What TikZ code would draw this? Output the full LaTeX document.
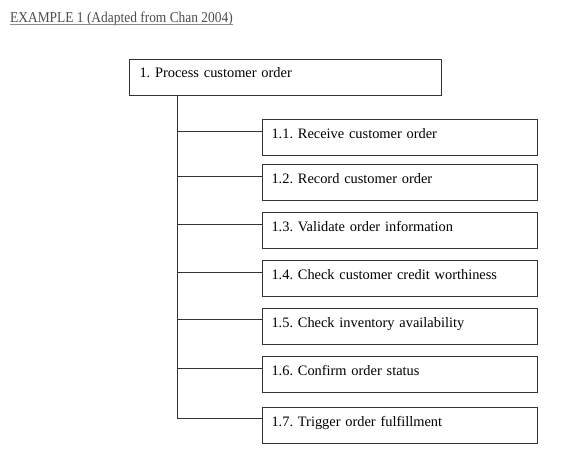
\documentclass[tikz,border=0pt]{standalone}
\usepackage{fontspec}
\setmainfont{Liberation Serif}
\begin{document}
\frenchspacing
\begin{tikzpicture}[x=1pt,y=-1pt,
  box/.style={draw=black!80, line width=1pt, fill=white, anchor=north west,
    inner xsep=9pt, inner ysep=0pt, text width=257pt, align=left,
    minimum height=36pt, text height=10pt, text depth=8pt,
    font=\fontsize{14.4}{16}\selectfont\frenchspacing},
  topbox/.style={box, inner xsep=10pt, text width=292pt, text height=9pt, text depth=9pt},
  link/.style={draw=black!80, line width=1pt}]
\useasboundingbox (0,0) rectangle (579,464);
\node[anchor=base west, inner sep=0pt, text=black!70,
  font=\fontsize{15}{17}\selectfont\frenchspacing] (title) at (10,22.3)
  {\scalebox{0.895}[1]{EXAMPLE 1 (Adapted from Chan 2004)}};
\draw[black!45, line width=0.8pt] ([yshift=-2.2pt]title.base west) -- ([yshift=-2.2pt]title.base east);

\node[topbox] (top) at (129,59) {1. Process customer order};
\node[box] (c1) at (262,119) {1.1. Receive customer order};
\node[box] (c2) at (262,164) {1.2. Record customer order};
\node[box] (c3) at (262,212) {1.3. Validate order information};
\node[box] (c4) at (262,260) {1.4. Check customer credit worthiness};
\node[box] (c5) at (262,307.5) {1.5. Check inventory availability};
\node[box] (c6) at (262,356) {1.6. Confirm order status};
\node[box] (c7) at (262,406.5) {1.7. Trigger order fulfillment};

\coordinate (trunk) at ([xshift=48pt]top.south west);
\foreach \i in {1,...,7} {
  \coordinate (b\i) at ([yshift=-12pt]c\i.north west);
}
\path[link] (trunk) |- (b7);
\foreach \i in {1,...,6} {
  \path[link] (trunk |- b\i) -- (b\i);
}
\end{tikzpicture}
\end{document}
